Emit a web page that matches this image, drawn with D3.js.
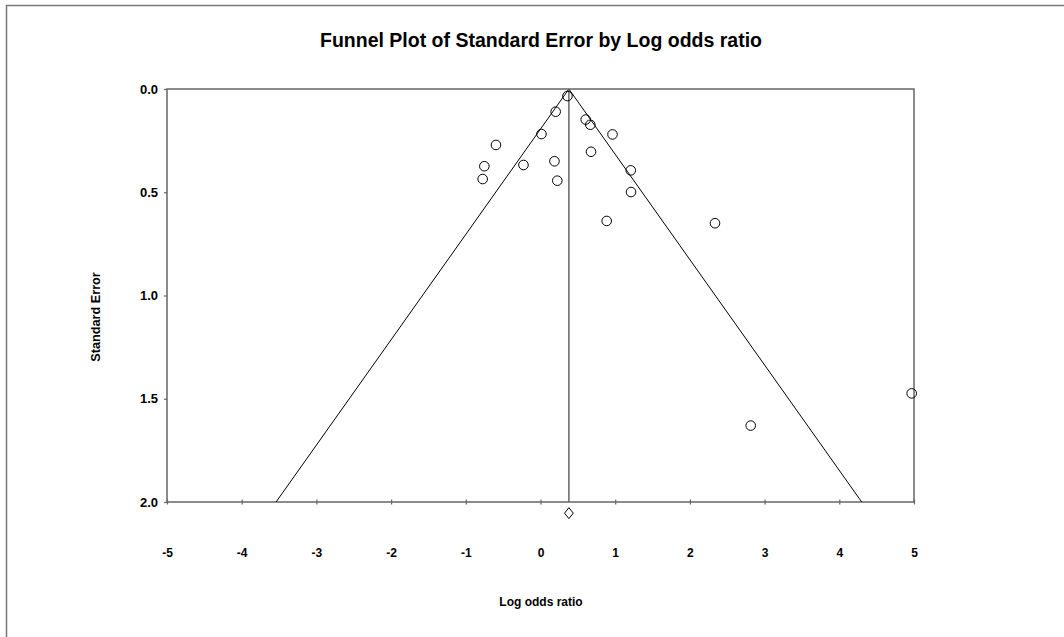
<!DOCTYPE html>
<html><head><meta charset="utf-8">
<script src="https://cdn.jsdelivr.net/npm/d3@7/dist/d3.min.js"></script>
<style>body{margin:0;background:#fff}svg{display:block}text{font-family:"Liberation Sans",Arial,sans-serif;font-weight:bold;fill:#000}</style>
</head><body><svg id="c" width="1064" height="637"></svg>
<script>
const logOdds = [0.361,0.203,0.013,-0.596,-0.752,-0.774,-0.228,0.187,0.225,0.605,0.667,0.964,0.676,1.208,1.212,0.886,2.336,2.814,4.969];
const stdErr  = [0.034,0.110,0.218,0.271,0.374,0.436,0.368,0.350,0.444,0.148,0.173,0.220,0.304,0.394,0.499,0.639,0.650,1.630,1.474];
const pooled = 0.38;
const xTicks = [-5,-4,-3,-2,-1,0,1,2,3,4,5];
const yTicks = [0,0.5,1,1.5,2];

const svg = d3.select("#c");
const L=167,R=914,T=89,B=502;
const x = d3.scaleLinear().domain([-5,5]).range([L,R]);
const y = d3.scaleLinear().domain([0,2]).range([T,B]);

// outer border
svg.append("rect").attr("x",6.5).attr("y",5.5).attr("width",1100).attr("height",700)
  .attr("fill","none").attr("stroke","#777").attr("stroke-width",1.5);

svg.append("text").attr("x",541).attr("y",47).attr("text-anchor","middle")
  .style("font-size","19.5px").text("Funnel Plot of Standard Error by Log odds ratio");

// frame
svg.append("rect").attr("x",L).attr("y",T).attr("width",R-L).attr("height",B-T)
  .attr("fill","none").attr("stroke","#666").attr("stroke-width",1.5);

// x axis
const xa = svg.append("g").attr("transform",`translate(0,${B})`)
  .call(d3.axisBottom(x).tickValues(xTicks).tickSize(2.5).tickSizeOuter(0).tickFormat(d=>String(d)));
xa.select(".domain").remove();
xa.selectAll(".tick line").attr("y1",-2.5).attr("stroke","#666").attr("stroke-width",1.2);
xa.selectAll(".tick text").attr("y",51).attr("dy","0.35em").style("font-size","12px").style("font-family",null);

const ya = svg.append("g").attr("transform",`translate(${L},0)`)
  .call(d3.axisLeft(y).tickValues(yTicks).tickSize(3).tickSizeOuter(0).tickFormat(d3.format(".1f")));
ya.select(".domain").remove();
ya.selectAll(".tick line").attr("stroke","#666").attr("stroke-width",1.2);
ya.selectAll(".tick text").attr("x",-9).style("font-size","13px").style("font-family",null);

svg.append("text").attr("x",541).attr("y",606).attr("text-anchor","middle")
  .style("font-size","12px").text("Log odds ratio");
svg.append("text").attr("transform","translate(100,317) rotate(-90)").attr("text-anchor","middle")
  .style("font-size","12.7px").text("Standard Error");

// funnel
const line = d3.line().x(d=>x(d[0])).y(d=>y(d[1]));
svg.append("path").attr("d",line([[pooled-1.96*2,2],[pooled,0],[pooled+1.96*2,2]]))
  .attr("fill","none").attr("stroke","#000").attr("stroke-width",1);
svg.append("line").attr("x1",x(pooled)).attr("x2",x(pooled)).attr("y1",y(0)).attr("y2",y(2))
  .attr("stroke","#666").attr("stroke-width",1.5);

// points
svg.append("g").selectAll("circle").data(logOdds).join("circle")
  .attr("cx",d=>x(d)).attr("cy",(d,i)=>y(stdErr[i])).attr("r",4.8)
  .attr("fill","none").attr("stroke","#000").attr("stroke-width",1);

// diamond
svg.append("path").attr("d",d3.symbol(d3.symbolSquare,60)())
  .attr("transform",`translate(${x(pooled)},${y(2.054)}) scale(0.8,1) rotate(45)`)
  .attr("fill","#fff").attr("stroke","#000").attr("stroke-width",1).attr("vector-effect","non-scaling-stroke");
</script></body></html>
